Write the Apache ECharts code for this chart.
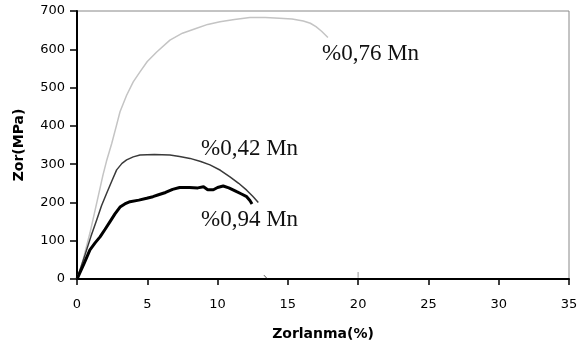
<!DOCTYPE html>
<html>
<head>
<meta charset="utf-8">
<script src="https://cdn.jsdelivr.net/npm/echarts@6/dist/echarts.min.js"></script>
<style>
  html, body { margin: 0; padding: 0; background: #fff; }
  #chart { width: 584px; height: 348px; }
</style>
</head>
<body>
<div id="chart"></div>
<script>
// x ticks (strain %) and y ticks (stress MPa)
var xTicks = [0, 5, 10, 15, 20, 25, 30, 35];
var yTicks = [0, 100, 200, 300, 400, 500, 600, 700];

// %0,76 Mn - light gray curve  [strain %, stress MPa]
var mn076 = [[0,0],[0.43,50],[0.92,120],[1.4,198],[1.85,272],[2.1,308],[2.47,354],[2.8,400],[3.06,437],
  [3.53,480],[4.0,515],[4.48,541],[5.0,568],[5.67,593],[6.61,624],[7.5,642],[8.51,655],[9.3,665],
  [10.17,672],[11.2,678],[12.3,683],[13.4,683],[14.4,681],[15.3,679],[16.1,674],[16.6,668],
  [17.0,659],[17.4,647],[17.85,631]];

// %0,42 Mn - dark gray curve
var mn042 = [[0,0],[0.57,63],[1.0,112],[1.4,154],[1.75,192],[2.11,224],[2.5,258],[2.82,285],[3.2,302],
  [3.53,311],[4.0,319],[4.48,324],[5.5,325],[6.61,324],[7.3,320],[8.04,315],[8.8,307],[9.46,298],
  [10.2,284],[10.88,267],[11.5,250],[12.07,232],[12.5,216],[12.9,200]];

// %0,94 Mn - thick black curve
var mn094 = [[0,0],[0.5,40],[0.92,76],[1.3,95],[1.64,110],[2.0,130],[2.35,150],[2.7,170],[3.06,188],
  [3.4,196],[3.77,202],[4.4,206],[4.96,211],[5.4,215],[5.8,220],[6.3,226],[6.8,234],[7.3,239],
  [8.0,239],[8.6,238],[9.0,241],[9.3,233],[9.7,233],[10.0,239],[10.4,243],[10.8,238],[11.36,228],
  [11.7,222],[12.07,215],[12.3,205],[12.45,196]];

// small stray marks near the x axis
var strayGray = [[20,3],[20,18]];
var strayDark = [[13.3,10],[13.5,2]];

var labels = ['%0,76 Mn', '%0,42 Mn', '%0,94 Mn'];

var chart = echarts.init(document.getElementById('chart'));

var tickFont = {
  color: '#000',
  fontFamily: 'DejaVu Sans',
  fontSize: 13
};

var option = {
  animation: false,
  grid: {
    left: 77,
    right: 15,
    top: 11,
    bottom: 69,
    show: true,
    borderColor: '#888',
    borderWidth: 1
  },
  xAxis: {
    type: 'value',
    min: 0,
    max: 35,
    interval: 5,
    name: 'Zorlanma(%)',
    nameLocation: 'middle',
    nameGap: 48,
    nameTextStyle: { color: '#000', fontFamily: 'DejaVu Sans', fontWeight: 'bold', fontSize: 14 },
    axisLine: { lineStyle: { color: '#000', width: 2 } },
    axisTick: { inside: false, length: 6, lineStyle: { color: '#000', width: 1.5 } },
    axisLabel: Object.assign({ margin: 19 }, tickFont),
    splitLine: { show: false }
  },
  yAxis: {
    type: 'value',
    min: 0,
    max: 700,
    interval: 100,
    name: 'Zor(MPa)',
    nameLocation: 'middle',
    nameGap: 51,
    nameRotate: 90,
    nameTextStyle: { color: '#000', fontFamily: 'DejaVu Sans', fontWeight: 'bold', fontSize: 14 },
    axisLine: { show: true, lineStyle: { color: '#000', width: 2 } },
    axisTick: { show: true, inside: false, length: 7, lineStyle: { color: '#000', width: 1.5 } },
    axisLabel: Object.assign({ margin: 12 }, tickFont),
    splitLine: { show: false }
  },
  series: [{
    name: labels[0],
    type: 'line',
    data: mn076,
    showSymbol: false,
    lineStyle: { color: '#c4c4c4', width: 1.5 },
    z: 2
  }, {
    name: labels[1],
    type: 'line',
    data: mn042,
    showSymbol: false,
    lineStyle: { color: '#3a3a3a', width: 1.5 },
    z: 3
  }, {
    name: labels[2],
    type: 'line',
    data: mn094,
    showSymbol: false,
    lineStyle: { color: '#000', width: 3 },
    z: 4
  }, {
    type: 'line',
    data: strayGray,
    showSymbol: false,
    lineStyle: { color: '#bbb', width: 1.5 }
  }, {
    type: 'line',
    data: strayDark,
    showSymbol: false,
    lineStyle: { color: '#555', width: 1 }
  }],
  graphic: [{
    type: 'text', left: 322, top: 42,
    style: { text: labels[0], fill: '#111', font: '23px "Liberation Serif"' }
  }, {
    type: 'text', left: 201, top: 137,
    style: { text: labels[1], fill: '#111', font: '23px "Liberation Serif"' }
  }, {
    type: 'text', left: 201, top: 208,
    style: { text: labels[2], fill: '#111', font: '23px "Liberation Serif"' }
  }]
};

chart.setOption(option);
</script>
</body>
</html>
